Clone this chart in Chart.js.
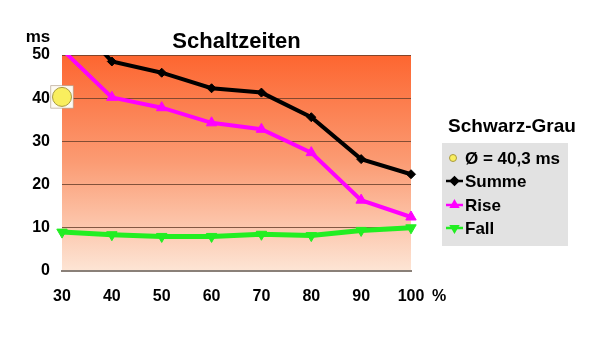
<!DOCTYPE html>
<html>
<head>
<meta charset="utf-8">
<script src="https://cdn.jsdelivr.net/npm/chart.js@4/dist/chart.umd.min.js"></script>
<style>
  html, body { margin: 0; padding: 0; background: #fff; }
  #wrap { position: relative; width: 600px; height: 352px; }
</style>
</head>
<body>
<div id="wrap"><canvas id="schaltChart" width="600" height="352"></canvas></div>
<script>
// Werte
const kategorien = ['30', '40', '50', '60', '70', '80', '90', '100'];
const summe = [61, 48.5, 45.9, 42.3, 41.3, 35.6, 25.9, 22.4];
const rise  = [51.3, 40.2, 37.8, 34.3, 32.8, 27.4, 16.4, 12.5];
const fall  = [9.0, 8.4, 8.0, 8.0, 8.5, 8.2, 9.4, 10.0];
const durchschnitt = [40.3, null, null, null, null, null, null, null];
const yTicks = [0, 10, 20, 30, 40, 50];

const FONT = '"Liberation Sans", Arial, sans-serif';
const avgText = 'Ø = ' + durchschnitt[0].toFixed(1).replace('.', ',') + ' ms';

// Verlauf hinter dem Plotbereich
const hintergrund = {
    id: 'hintergrund',
    beforeDraw(chart) {
        const { ctx, chartArea: a } = chart;
        const g = ctx.createLinearGradient(0, a.top, 0, a.bottom);
        g.addColorStop(0, '#fd6630');
        g.addColorStop(0.5, '#fb9c74');
        g.addColorStop(1, '#fde5d5');
        ctx.save();
        ctx.fillStyle = g;
        ctx.fillRect(a.left, a.top, a.right - a.left, a.bottom - a.top);
        ctx.restore();
    }
};

// Titel, Einheiten und Legende
const beschriftung = {
    id: 'beschriftung',
    afterDraw(chart) {
        const { ctx, chartArea: a } = chart;
        const ds = chart.data.datasets;
        ctx.save();
        ctx.fillStyle = '#000';
        ctx.textBaseline = 'alphabetic';

        ctx.font = 'bold 22px ' + FONT;
        ctx.textAlign = 'center';
        ctx.fillText('Schaltzeiten', (a.left + a.right) / 2, 48);

        ctx.font = 'bold 17px ' + FONT;
        ctx.fillText('ms', 38, 42);

        ctx.font = 'bold 16px ' + FONT;
        ctx.textAlign = 'left';
        ctx.fillText('%', 432, 301);

        // Legende
        ctx.fillStyle = '#e2e2e2';
        ctx.fillRect(442, 143, 126, 103);
        ctx.fillStyle = '#000';
        ctx.font = 'bold 19px ' + FONT;
        ctx.textAlign = 'center';
        ctx.fillText('Schwarz-Grau', 512, 132);

        const eintraege = [
            { ds: ds[0], text: avgText, linie: false },
            { ds: ds[2], text: 'Summe', linie: true },
            { ds: ds[3], text: 'Rise', linie: true },
            { ds: ds[4], text: 'Fall', linie: true }
        ];
        const basis = [164, 187, 211, 234];
        ctx.font = 'bold 17px ' + FONT;
        ctx.textAlign = 'left';
        eintraege.forEach((e, i) => {
            const y = basis[i] - 6;
            if (e.linie) {
                ctx.strokeStyle = e.ds.borderColor;
                ctx.lineWidth = 2.5;
                ctx.beginPath();
                ctx.moveTo(446, y);
                ctx.lineTo(463, y);
                ctx.stroke();
                ctx.fillStyle = e.ds.pointBackgroundColor;
                Chart.helpers.drawPoint(ctx, {
                    pointStyle: e.ds.pointStyle,
                    rotation: e.ds.pointRotation || 0,
                    radius: 3.5,
                    borderWidth: 1
                }, 454.5, y);
            } else {
                ctx.fillStyle = e.ds.pointBackgroundColor;
                ctx.strokeStyle = e.ds.pointBorderColor;
                ctx.lineWidth = 1;
                Chart.helpers.drawPoint(ctx, { pointStyle: 'circle', radius: 3.5, borderWidth: 1 }, 453, y);
            }
            ctx.fillStyle = '#000';
            ctx.fillText(e.text, 465, basis[i]);
        });
        ctx.restore();
    }
};

const randClip = { left: false, top: 0, right: false, bottom: false };
const ctx = document.getElementById('schaltChart').getContext('2d');

new Chart(ctx, {
    type: 'line',
    data: {
        labels: kategorien,
        datasets: [
            {
                label: avgText,
                data: durchschnitt,
                showLine: false,
                pointStyle: 'circle',
                pointRadius: 9.5,
                pointBackgroundColor: '#f9ee5e',
                pointBorderColor: '#a89a40',
                pointBorderWidth: 1,
                clip: false
            },
            {
                // weisses Feld hinter dem Mittelwert
                data: durchschnitt,
                showLine: false,
                pointStyle: 'rect',
                pointRadius: 16,
                pointBackgroundColor: '#fdfaf2',
                pointBorderColor: 'rgba(170,150,130,0.6)',
                pointBorderWidth: 1,
                clip: false
            },
            {
                label: 'Summe',
                data: summe,
                borderColor: '#000000',
                borderWidth: 4,
                pointStyle: 'rectRot',
                pointRadius: 4.5,
                pointBackgroundColor: '#000000',
                pointBorderColor: '#000000',
                pointBorderWidth: 1,
                clip: randClip
            },
            {
                label: 'Rise',
                data: rise,
                borderColor: '#ff00ff',
                borderWidth: 4,
                pointStyle: 'triangle',
                pointRadius: 6,
                pointBackgroundColor: '#ff00ff',
                pointBorderColor: '#ff00ff',
                pointBorderWidth: 1,
                clip: randClip
            },
            {
                label: 'Fall',
                data: fall,
                borderColor: '#22ee22',
                borderWidth: 5,
                pointStyle: 'triangle',
                pointRotation: 180,
                pointRadius: 6,
                pointBackgroundColor: '#22ee22',
                pointBorderColor: '#22ee22',
                pointBorderWidth: 1,
                clip: randClip
            }
        ]
    },
    options: {
        responsive: false,
        animation: false,
        layout: { padding: { left: 0, top: 55, right: 189, bottom: 0 } },
        plugins: {
            legend: { display: false },
            tooltip: { enabled: false }
        },
        scales: {
            x: {
                offset: false,
                grid: { display: false, drawTicks: false },
                border: { display: true, color: '#8a8078', width: 2 },
                ticks: { color: '#000', font: { family: FONT, size: 16, weight: 'bold' }, padding: 16, maxRotation: 0, autoSkip: false },
                afterFit(scale) { scale.height = 81; }
            },
            y: {
                min: yTicks[0],
                max: yTicks[yTicks.length - 1],
                afterBuildTicks(scale) { scale.ticks = yTicks.map(v => ({ value: v })); },
                grid: { color: 'rgba(100,60,40,0.8)', lineWidth: 1, drawTicks: false },
                border: { display: false },
                ticks: { color: '#000', font: { family: FONT, size: 16, weight: 'bold' }, padding: 12 },
                afterFit(scale) { scale.width = 62; }
            }
        }
    },
    plugins: [hintergrund, beschriftung]
});
</script>
</body>
</html>
